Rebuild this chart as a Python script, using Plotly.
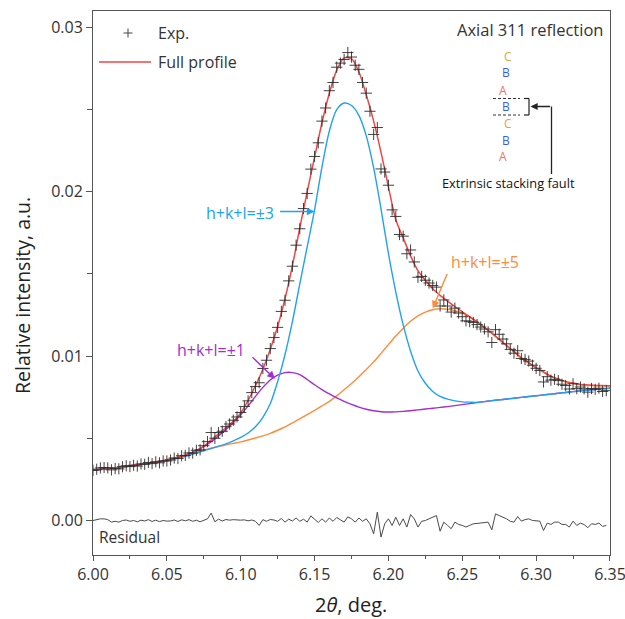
import plotly.graph_objects as go

# ---------------- data ----------------
# measured profile, 2-theta step 0.0025 deg
exp_two_theta = [round(6.0 + 0.0025 * i, 4) for i in range(140)]
exp_intensity = [
    0.00305, 0.00312, 0.00320, 0.00322, 0.00320, 0.00308, 0.00316, 0.00314, 0.00327, 0.00333,
    0.00328, 0.00336, 0.00331, 0.00344, 0.00342, 0.00353, 0.00346, 0.00357, 0.00351, 0.00362,
    0.00362, 0.00368, 0.00380, 0.00377, 0.00394, 0.00396, 0.00411, 0.00410, 0.00427, 0.00430,
    0.00455, 0.00480, 0.00535, 0.00500, 0.00535, 0.00543, 0.00571, 0.00587, 0.00610, 0.00630,
    0.00657, 0.00694, 0.00728, 0.00778, 0.00815, 0.00838, 0.00925, 0.00975, 0.01046, 0.01113,
    0.01175, 0.01272, 0.01340, 0.01458, 0.01547, 0.01675, 0.01775, 0.01898, 0.01990, 0.02138,
    0.02215, 0.02298, 0.02430, 0.02510, 0.02615, 0.02665, 0.02758, 0.02783, 0.02805, 0.02847,
    0.02820, 0.02770, 0.02745, 0.02665, 0.02600, 0.02490, 0.02349, 0.02391, 0.02139, 0.02120,
    0.02040, 0.01890, 0.01850, 0.01740, 0.01730, 0.01623, 0.01646, 0.01573, 0.01480, 0.01485,
    0.01462, 0.01445, 0.01430, 0.01420, 0.01305, 0.01342, 0.01305, 0.01268, 0.01292, 0.01262,
    0.01240, 0.01215, 0.01210, 0.01205, 0.01192, 0.01177, 0.01165, 0.01148, 0.01083, 0.01161,
    0.01133, 0.01104, 0.01075, 0.01041, 0.01018, 0.01033, 0.00986, 0.00980, 0.00970, 0.00945,
    0.00926, 0.00913, 0.00843, 0.00875, 0.00854, 0.00859, 0.00851, 0.00829, 0.00821, 0.00800,
    0.00832, 0.00802, 0.00812, 0.00801, 0.00781, 0.00803, 0.00798, 0.00805, 0.00785, 0.00790,
]
residual = [
    0.0, 0.5e-4, 1.0e-4, 1.0e-4, 0.5e-4, -1.0e-4, -0.5e-4, -1.0e-4, 0.0, 0.3e-4,
    -0.5e-4, 0.0, -0.8e-4, 0.2e-4, -0.3e-4, 0.5e-4, -0.6e-4, 0.2e-4, -0.7e-4, 0.0,
    -0.4e-4, -0.3e-4, 0.3e-4, -0.6e-4, 0.4e-4, -0.2e-4, 0.5e-4, -0.5e-4, 0.2e-4, -0.8e-4,
    0.3e-4, 1.0e-4, 4.5e-4, -0.8e-4, 0.8e-4, -0.3e-4, 0.6e-4, 0.2e-4, 0.5e-4, 0.3e-4,
    0.2e-4, 0.4e-4, -0.2e-4, 0.3e-4, -0.5e-4, -3.0e-4, 0.5e-4, -0.5e-4, 0.6e-4, 0.3e-4,
    -0.5e-4, 1.2e-4, -1.0e-4, 0.8e-4, -0.3e-4, 1.5e-4, -0.5e-4, 0.8e-4, -1.0e-4, 2.8e-4,
    0.5e-4, -1.2e-4, 1.0e-4, -1.0e-4, 1.5e-4, -0.5e-4, 1.8e-4, 0.3e-4, -1.0e-4, 2.2e-4,
    1.0e-4, -1.0e-4, 1.5e-4, -0.5e-4, 1.0e-4, -2.0e-4, -8.1e-4, 5.1e-4, -10.1e-4, -2.0e-4,
    1.0e-4, -3.0e-4, 2.0e-4, -3.0e-4, 1.0e-4, -4.0e-4, 3.6e-4, 1.0e-4, -4.0e-4, -0.5e-4,
    0.0, 1.0e-4, 2.0e-4, 3.0e-4, -6.5e-4, -1.0e-4, -3.0e-4, -5.0e-4, -1.0e-4, -2.4e-4,
    -3.0e-4, -4.0e-4, -3.0e-4, -2.0e-4, -1.8e-4, -1.6e-4, -1.0e-4, -1.0e-4, -5.7e-4, 4.0e-4,
    3.0e-4, 2.0e-4, 1.0e-4, -0.5e-4, -1.0e-4, 2.4e-4, -0.4e-4, 0.5e-4, 1.0e-4, 0.0,
    -0.4e-4, -0.4e-4, -6.1e-4, -1.6e-4, -2.4e-4, -1.0e-4, -1.0e-4, -2.4e-4, -2.4e-4, -4.0e-4,
    -0.4e-4, -3.0e-4, -1.6e-4, -2.5e-4, -4.4e-4, -2.0e-4, -2.4e-4, -1.6e-4, -3.6e-4, -3.0e-4,
]

# fitted curves, 2-theta step 0.005 deg
fit_two_theta = [round(6.0 + 0.005 * i, 3) for i in range(71)]
fit_full = [
    0.00305, 0.00310, 0.00315, 0.00321, 0.00327, 0.00333, 0.00339, 0.00345, 0.00352, 0.00358,
    0.00366, 0.00377, 0.00390, 0.00406, 0.00425, 0.00452, 0.00490, 0.00527, 0.00565, 0.00603,
    0.00655, 0.00730, 0.00820, 0.00920, 0.01040, 0.01180, 0.01350, 0.01550, 0.01780, 0.02000,
    0.02210, 0.02420, 0.02600, 0.02740, 0.02815, 0.02810, 0.02730, 0.02590, 0.02430, 0.02240,
    0.02030, 0.01830, 0.01720, 0.01610, 0.01520, 0.01462, 0.01410, 0.01370, 0.01335, 0.01302,
    0.01270, 0.01240, 0.01210, 0.01175, 0.01140, 0.01103, 0.01065, 0.01028, 0.00990, 0.00960,
    0.00930, 0.00904, 0.00878, 0.00861, 0.00845, 0.00836, 0.00828, 0.00825, 0.00822, 0.00821, 0.00820,
]
# component h+k+l = ±3
comp3 = [
    0.00305, 0.00310, 0.00315, 0.00320, 0.00326, 0.00332, 0.00338, 0.00344, 0.00350, 0.00358,
    0.00366, 0.00375, 0.00385, 0.00397, 0.00410, 0.00424, 0.00438, 0.00452, 0.00466, 0.00484,
    0.00505, 0.00532, 0.00570, 0.00628, 0.00710, 0.00845, 0.01010, 0.01210, 0.01440, 0.01665,
    0.01890, 0.02150, 0.02370, 0.02500, 0.02540, 0.02525, 0.02465, 0.02340, 0.02145, 0.01895,
    0.01625, 0.01390, 0.01190, 0.01030, 0.00910, 0.00835, 0.00785, 0.00755, 0.00738, 0.00728,
    0.00722, 0.00720, 0.00719, 0.00723, 0.00729, 0.00734, 0.00739, 0.00744, 0.00749, 0.00754,
    0.00759, 0.00764, 0.00769, 0.00774, 0.00779, 0.00784, 0.00789, 0.00793, 0.00797, 0.00801, 0.00805,
]
# component h+k+l = ±1
comp1 = [
    0.00305, 0.00310, 0.00316, 0.00321, 0.00327, 0.00333, 0.00339, 0.00345, 0.00352, 0.00359,
    0.00367, 0.00377, 0.00389, 0.00405, 0.00425, 0.00450, 0.00480, 0.00515, 0.00553, 0.00595,
    0.00643, 0.00697, 0.00755, 0.00810, 0.00855, 0.00885, 0.00900, 0.00900, 0.00888, 0.00858,
    0.00826, 0.00796, 0.00770, 0.00746, 0.00725, 0.00706, 0.00690, 0.00677, 0.00668, 0.00662,
    0.00660, 0.00661, 0.00664, 0.00668, 0.00673, 0.00678, 0.00683, 0.00688, 0.00693, 0.00699,
    0.00705, 0.00711, 0.00717, 0.00723, 0.00729, 0.00734, 0.00739, 0.00744, 0.00749, 0.00754,
    0.00759, 0.00764, 0.00769, 0.00774, 0.00779, 0.00784, 0.00789, 0.00793, 0.00797, 0.00801, 0.00805,
]
# component h+k+l = ±5
comp5 = [
    0.00305, 0.00310, 0.00315, 0.00320, 0.00325, 0.00331, 0.00338, 0.00345, 0.00352, 0.00361,
    0.00371, 0.00381, 0.00392, 0.00404, 0.00416, 0.00428, 0.00440, 0.00450, 0.00460, 0.00469,
    0.00478, 0.00490, 0.00502, 0.00515, 0.00530, 0.00549, 0.00570, 0.00594, 0.00618, 0.00644,
    0.00670, 0.00697, 0.00725, 0.00758, 0.00795, 0.00834, 0.00875, 0.00919, 0.00965, 0.01017,
    0.01070, 0.01122, 0.01170, 0.01212, 0.01245, 0.01268, 0.01282, 0.01288, 0.01285, 0.01276,
    0.01262, 0.01237, 0.01207, 0.01173, 0.01138, 0.01100, 0.01062, 0.01025, 0.00988, 0.00957,
    0.00928, 0.00901, 0.00876, 0.00858, 0.00843, 0.00833, 0.00826, 0.00822, 0.00820, 0.00819, 0.00818,
]

x_ticks = [6.00, 6.05, 6.10, 6.15, 6.20, 6.25, 6.30, 6.35]
y_ticks = [0.00, 0.01, 0.02, 0.03]

# ---------------- styling ----------------
FONT = "Open Sans"
RED = "#F04646"
BLUE = "#20A2F2"
PURPLE = "#A22ED2"
ORANGE = "#FF8C3A"
AXIS = "#555555"
TEXT = "#333333"

W, H = 625, 619
ML, MR, MT, MB = 93, 15, 11, 64
PW, PH = W - ML - MR, H - MT - MB


def px(xp):
    return (xp - ML) / PW


def py(yp):
    return (H - MB - yp) / PH


fig = go.Figure()

line_kw = dict(mode="lines", line_shape="spline", hoverinfo="skip", showlegend=False)
fig.add_trace(go.Scatter(x=fit_two_theta, y=comp5, line=dict(color=ORANGE, width=1.4, smoothing=0.8), **line_kw))
fig.add_trace(go.Scatter(x=fit_two_theta, y=comp1, line=dict(color=PURPLE, width=1.4, smoothing=0.8), **line_kw))
fig.add_trace(go.Scatter(x=fit_two_theta, y=comp3, line=dict(color=BLUE, width=1.4, smoothing=0.8), **line_kw))
fig.add_trace(go.Scatter(x=fit_two_theta, y=fit_full, line=dict(color=RED, width=1.5, smoothing=0.8), **line_kw))
fig.add_trace(go.Scatter(x=exp_two_theta, y=residual, mode="lines",
                         line=dict(color="#4a4a4a", width=1), hoverinfo="skip", showlegend=False))
fig.add_trace(go.Scatter(
    x=exp_two_theta, y=exp_intensity, mode="markers", showlegend=False,
    marker=dict(symbol="cross-thin", size=8, line=dict(color="rgba(45,45,45,0.9)", width=1)),
))

shapes = []


def seg(x0, y0, x1, y1, color="#333333", width=1.0, dash="solid"):
    shapes.append(dict(type="line", xref="paper", yref="paper",
                       x0=px(x0), y0=py(y0), x1=px(x1), y1=py(y1),
                       line=dict(color=color, width=width, dash=dash)))


# legend samples
seg(123.5, 33, 132.5, 33, color="#444444", width=1)
seg(128, 28.5, 128, 37.5, color="#444444", width=1)
seg(99, 62, 151, 62, color=RED, width=1.5)

# stacking-sequence inset: fault markers and pointer
seg(493, 98.5, 520, 98.5, color="#333333", width=1.2, dash="3px,2px")
seg(493, 115, 520, 115, color="#333333", width=1.2, dash="3px,2px")
seg(524, 98.5, 529, 98.5, color="#222222", width=1.2)
seg(529, 98.5, 529, 115, color="#222222", width=1.2)
seg(524, 115, 529, 115, color="#222222", width=1.2)
seg(551.5, 174, 551.5, 106.5, color="#222222", width=1.3)

annotations = []


def text(xp, yp, s, size, color=TEXT, xanchor="center", angle=0):
    annotations.append(dict(xref="paper", yref="paper", x=px(xp), y=py(yp), text=s,
                            showarrow=False, xanchor=xanchor, yanchor="middle",
                            textangle=angle, font=dict(family=FONT, size=size, color=color)))


text(156, 33, "Exp.", 16, xanchor="left")
text(156, 62, "Full profile", 16, xanchor="left")
text(605, 30, "Axial 311 reflection", 16.5, xanchor="right")
text(97, 537, "Residual", 15.5, xanchor="left")
text(22, 296, "Relative intensity, a.u.", 19.5, color="#222222", angle=-90)
text(351, 604, "2<i>θ</i>, deg.", 20, color="#222222")

GOLD, LBLUE, PINK = "#E2A43A", "#3B5FE0", "#F26C6C"
for xc, yc, s, c in [(507.7, 56.7, "C", GOLD), (506, 72.7, "B", LBLUE), (502.7, 90, "A", PINK),
                     (506, 106.7, "B", LBLUE), (507.7, 123.3, "C", GOLD),
                     (506, 140, "B", LBLUE), (502.7, 156.7, "A", PINK)]:
    text(xc, yc, s, 12, color=c)
text(508, 183, "Extrinsic stacking fault", 12.8, color="#111111")

# pointer arrowhead into the bracket
annotations.append(dict(xref="paper", yref="paper", x=px(530.5), y=py(106.5), ax=21, ay=0,
                        text="", showarrow=True, arrowhead=2, arrowsize=1.1, arrowwidth=1.3,
                        arrowcolor="#222222"))

# component labels with arrows
text(240, 213, "h+k+l=±3", 16, color=BLUE)
annotations.append(dict(x=6.1500, y=0.0188, ax=-36, ay=0, text="", showarrow=True,
                        arrowhead=2, arrowsize=1.1, arrowwidth=1.4, arrowcolor=BLUE))
text(211, 350, "h+k+l=±1", 16, color=PURPLE)
annotations.append(dict(x=6.1232, y=0.00862, ax=-24, ay=-23, text="", showarrow=True,
                        arrowhead=2, arrowsize=1.1, arrowwidth=1.4, arrowcolor=PURPLE))
text(485, 262, "h+k+l=±5", 16, color=ORANGE)
annotations.append(dict(x=6.2300, y=0.01290, ax=15, ay=-36, text="", showarrow=True,
                        arrowhead=2, arrowsize=1.1, arrowwidth=1.4, arrowcolor=ORANGE))

axis_common = dict(
    showgrid=False, zeroline=False, showline=True, linecolor=AXIS, linewidth=1,
    mirror=True, ticks="outside", tickcolor=AXIS, tickwidth=1, automargin=False,
    tickfont=dict(family=FONT, size=16, color=TEXT), ticklabeloverflow="allow",
)

fig.update_layout(
    width=W, height=H,
    margin=dict(l=ML, r=MR, t=MT, b=MB, autoexpand=False),
    paper_bgcolor="white", plot_bgcolor="white",
    showlegend=False,
    shapes=shapes, annotations=annotations,
    xaxis=dict(range=[6.0, 6.35001], tickvals=x_ticks, tickformat=".2f", ticklen=5,
               minor=dict(dtick=0.025, ticks="outside", ticklen=3, tickcolor=AXIS),
               **axis_common),
    yaxis=dict(range=[-0.0021, 0.0310], tickvals=y_ticks, tickformat=".2f", ticklen=6,
               minor=dict(dtick=0.005, ticks="outside", ticklen=5, tickcolor=AXIS),
               **axis_common),
)

fig.write_html("out.html", config={"displayModeBar": False})
